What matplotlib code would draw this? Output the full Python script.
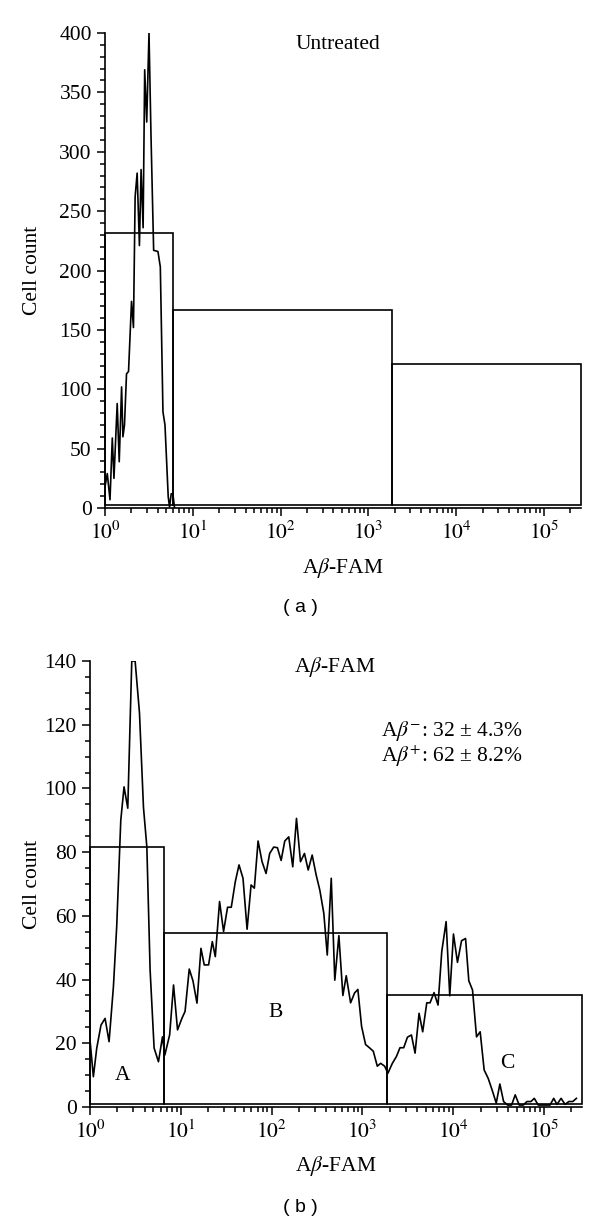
import numpy as np
import matplotlib
matplotlib.use("Agg")
import matplotlib.pyplot as plt
import matplotlib.ticker as ticker
from matplotlib.patches import Rectangle

plt.rcParams['font.family'] = ['Liberation Serif', 'DejaVu Serif']
plt.rcParams['mathtext.fontset'] = 'stix'

# (a) untreated: log10 fluorescence vs cell count
untreated_log = [0.000, 0.026, 0.057, 0.083, 0.102, 0.139, 0.162, 0.189, 0.204, 0.222,
                 0.245, 0.268, 0.302, 0.324, 0.343, 0.366, 0.392, 0.411, 0.434, 0.452,
                 0.475, 0.501, 0.524, 0.554, 0.603, 0.630, 0.660, 0.683, 0.720, 0.735,
                 0.754, 0.773, 0.792]
untreated_cnt = [18, 29, 7, 59, 25, 88, 39, 102, 60, 70,
                 113, 115, 174, 152, 262, 282, 221, 285, 236, 369,
                 325, 400, 313, 217, 216, 203, 81, 70, 9.5, 1,
                 12, 12, 0]
untreated_gate_edges = [1, 5.93, 1850, 262144]
untreated_gate_height = [232, 167, 121]
untreated_gate_base = 2.5

# (b) Abeta-FAM treated
fam_log = [0.000, 0.037, 0.074, 0.121, 0.166, 0.210, 0.258, 0.294, 0.339, 0.375,
           0.416, 0.460, 0.497, 0.545, 0.589, 0.626, 0.662, 0.706, 0.754, 0.798,
           0.824, 0.877, 0.920, 0.964, 1.012, 1.047, 1.093, 1.134, 1.178, 1.222,
           1.258, 1.306, 1.347, 1.380, 1.427, 1.471, 1.515, 1.556, 1.600, 1.641,
           1.685, 1.730, 1.774, 1.810, 1.851, 1.895, 1.939, 1.979, 2.023, 2.064,
           2.105, 2.145, 2.189, 2.233, 2.274, 2.318, 2.362, 2.403, 2.447, 2.491,
           2.531, 2.575, 2.613, 2.657, 2.696, 2.741, 2.785, 2.822, 2.870, 2.914,
           2.950, 2.991, 3.035, 3.077, 3.120, 3.164, 3.201, 3.245, 3.281, 3.330,
           3.374, 3.414, 3.455, 3.496, 3.540, 3.580, 3.624, 3.664, 3.709, 3.745,
           3.789, 3.833, 3.874, 3.922, 3.962, 4.003, 4.047, 4.092, 4.136, 4.172,
           4.213, 4.257, 4.297, 4.341, 4.385, 4.429, 4.474, 4.514, 4.555, 4.599,
           4.643, 4.683, 4.727, 4.772, 4.812, 4.857, 4.893, 4.937, 4.978, 5.022,
           5.066, 5.107, 5.143, 5.188, 5.232, 5.273, 5.317, 5.357]
fam_cnt = [21, 9.5, 18.4, 25.7, 27.8, 20.5, 37.8, 56.6, 90, 100.5,
           93.8, 140, 140, 123.7, 94, 81.7, 43, 18.5, 14.2, 22,
           16.3, 22.6, 38.3, 24.2, 27.8, 30, 43.3, 39.6, 32.6, 49.8,
           44.6, 44.6, 51.9, 47.2, 64.5, 55.1, 62.7, 62.7, 70.7, 76,
           71.8, 55.8, 69.7, 68.7, 83.5, 77, 73.3, 79.6, 81.6, 81.4,
           77.4, 83.5, 84.8, 75.4, 90.6, 77, 79.6, 74.4, 79.1, 72.8,
           68.1, 60.8, 47.7, 71.8, 39.8, 53.8, 35, 41.2, 32.7, 35.8,
           36.9, 25.3, 19.6, 18.6, 17.5, 12.8, 13.7, 12.8, 10.6, 13.7,
           15.8, 18.6, 18.6, 21.9, 22.6, 16.9, 29.4, 23.6, 32.7, 32.7,
           35.9, 32, 48.8, 58.2, 34.9, 54.3, 45.4, 52.2, 52.9, 39.6,
           36.7, 22, 23.6, 11.6, 9, 5.3, 1.2, 7.2, 1.7, 0.6,
           0.6, 3.8, 0.6, 0.6, 1.7, 1.7, 2.7, 0.6, 0.6, 0.6,
           0.6, 2.7, 0.8, 2.7, 0.8, 1.7, 1.7, 2.7]
fam_gate_edges = [1, 6.6, 1850, 262144]
fam_gate_height = [81.5, 54.7, 35.1]
fam_gate_base = 1.0
fam_gate_names = ['A', 'B', 'C']
fam_name_pos = [(2.31, 10), (110, 29.5), (39000, 13.8)]

XMAX = 262144


def style_axes(ax, ymax, major, minor, ylab_x):
    ax.set_xscale('log')
    ax.set_xlim(1, XMAX)
    ax.set_ylim(0, ymax)
    for s in ['top', 'right']:
        ax.spines[s].set_visible(False)
    for s in ['left', 'bottom']:
        ax.spines[s].set_linewidth(1.2)
    ax.yaxis.set_major_locator(ticker.MultipleLocator(major))
    ax.yaxis.set_minor_locator(ticker.MultipleLocator(minor))
    ax.xaxis.set_major_locator(ticker.LogLocator(base=10, numticks=10))
    ax.xaxis.set_minor_locator(ticker.LogLocator(base=10, subs=np.arange(2, 10), numticks=20))
    ax.xaxis.set_major_formatter(ticker.FuncFormatter(lambda v, p: r'$10^{%d}$' % round(np.log10(v))))
    ax.tick_params(which='major', direction='out', length=6, width=1.1, labelsize=15.5)
    ax.tick_params(which='minor', direction='out', length=3.5, width=1.1)
    ax.tick_params(axis='x', which='major', pad=4, labelsize=15.5)
    ax.set_xlabel(r'A$\beta$-FAM', fontsize=15.5, labelpad=8)
    ax.set_ylabel('Cell count', fontsize=15.5)
    ax.yaxis.set_label_coords(ylab_x, 0.5)


def draw_gates(ax, edges, heights, base):
    for i, h in enumerate(heights):
        ax.add_patch(Rectangle((edges[i], base), edges[i + 1] - edges[i], h - base,
                               fill=False, edgecolor='black', linewidth=1.2, clip_on=False))


fig = plt.figure(figsize=(6, 12.26), dpi=100)

ax1 = fig.add_axes([0.175, 0.5856, 0.793, 0.3875])
ax1.plot(10 ** np.array(untreated_log), untreated_cnt, color='black', lw=1.2)
draw_gates(ax1, untreated_gate_edges, untreated_gate_height, untreated_gate_base)
style_axes(ax1, 400, 50, 10, -0.132)
ax1.text(450, 390, 'Untreated', fontsize=15.5, ha='center', va='center')

ax2 = fig.add_axes([0.15, 0.0971, 0.82, 0.3637])
ax2.plot(10 ** np.array(fam_log), fam_cnt, color='black', lw=1.2)
draw_gates(ax2, fam_gate_edges, fam_gate_height, fam_gate_base)
style_axes(ax2, 140, 20, 5, -0.098)
ax2.text(490, 138, r'A$\beta$-FAM', fontsize=15.5, ha='center', va='center')
ax2.text(1600, 118, r'A$\beta^{-}$: 32 ± 4.3%', fontsize=15.5, ha='left', va='center')
ax2.text(1600, 110, r'A$\beta^{+}$: 62 ± 8.2%', fontsize=15.5, ha='left', va='center')
for name, (px, py) in zip(fam_gate_names, fam_name_pos):
    ax2.text(px, py, name, fontsize=15.5, ha='center', va='center')

fig.text(0.5, 1 - 607 / 1226, '( a )', fontsize=14, ha='center', va='center',
         family=['Liberation Sans', 'DejaVu Sans'])
fig.text(0.5, 1 - 1207 / 1226, '( b )', fontsize=14, ha='center', va='center',
         family=['Liberation Sans', 'DejaVu Sans'])

fig.savefig('out.png', dpi=100)
